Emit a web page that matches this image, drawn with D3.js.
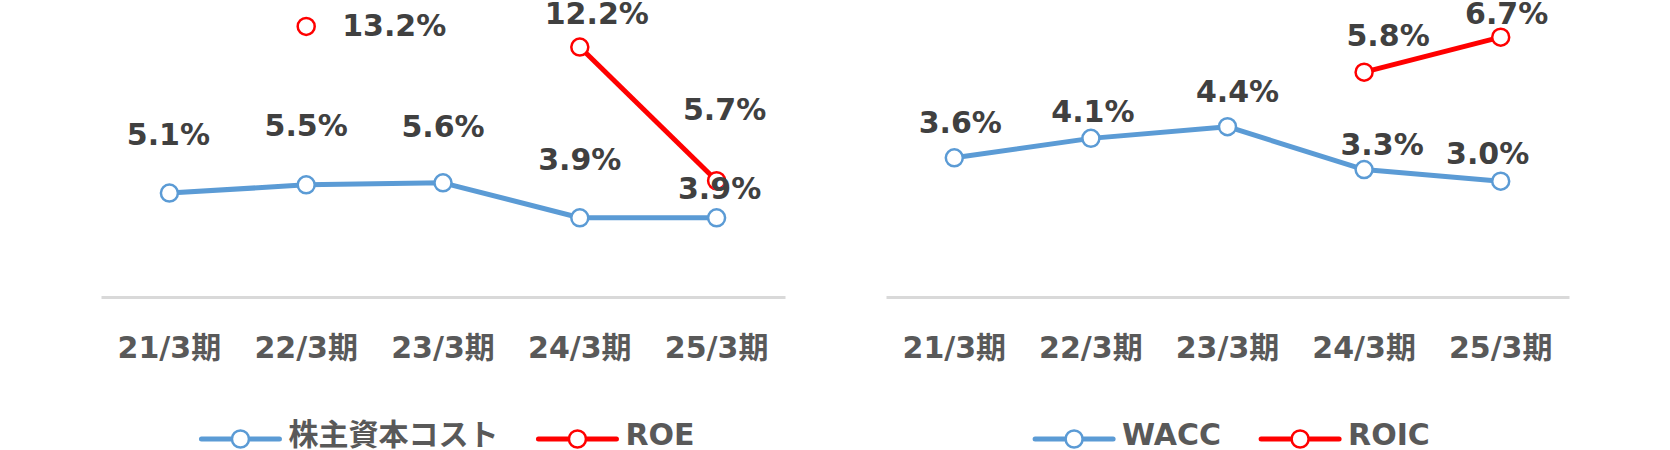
<!DOCTYPE html>
<html>
<head>
<meta charset="utf-8">
<script src="https://cdn.jsdelivr.net/npm/d3@7"></script>
<style>
  body { margin: 0; background: #fff; }
  text { font-family: "DejaVu Sans", "Noto Sans CJK JP", sans-serif; font-weight: bold; }
</style>
</head>
<body>
<svg width="1670" height="450"></svg>
<script>
// data
const categories = ['21/3期', '22/3期', '23/3期', '24/3期', '25/3期'];
const costOfEquity = [5.1, 5.5, 5.6, 3.9, 3.9];
const roe = [null, 13.2, null, 12.2, 5.7];
const wacc = [3.6, 4.1, 4.4, 3.3, 3.0];
const roic = [null, null, null, 5.8, 6.7];

const svg = d3.select('svg');
const blue = '#5B9BD5';
const red = '#FF0000';

// label nudges, as placed by hand in the original
const panels = [
  {
    left: 101, right: 785, yMax: 14, yTop: 10,
    series: [
      { name: '株主資本コスト', values: costOfEquity, color: blue,
        labels: [[-1, -48], [0, -49], [0, -46], [0, -48], [3, -19]] },
      { name: 'ROE', values: roe, color: red,
        labels: [null, [36, 10, 'start'], null, [17, -23], [8, -61]] }
    ]
  },
  {
    left: 886, right: 1569, yMax: 7.5, yTop: 6,
    series: [
      { name: 'WACC', values: wacc, color: blue,
        labels: [[6, -25], [2, -16], [10, -25], [18, -15], [-13, -17]] },
      { name: 'ROIC', values: roic, color: red,
        labels: [null, null, null, [24, -26], [6, -13]] }
    ]
  }
];

const baseY = 298;

const render = p => {
  const xScale = d3.scaleBand()
    .domain(categories)
    .range([p.left, p.right]);
  const cx = c => xScale(c) + xScale.bandwidth() / 2;

  const yScale = d3.scaleLinear()
    .domain([0, p.yMax])
    .range([baseY, p.yTop]);

  const g = svg.append('g');

  // category axis along the bottom
  const xAxis = d3.axisBottom(xScale)
    .tickSizeInner(0)
    .tickSizeOuter(0)
    .tickPadding(40);
  const axisG = g.append('g')
    .attr('transform', `translate(0, ${baseY - 1})`)
    .call(xAxis);
  axisG.select('.domain')
    .attr('stroke', '#D9D9D9')
    .attr('stroke-width', 3);
  axisG.selectAll('text')
    .attr('font-size', 30)
    .attr('font-family', '"DejaVu Sans", "Noto Sans CJK JP", sans-serif')
    .attr('font-weight', 'bold')
    .attr('fill', '#595959');

  const line = d3.line()
    .defined(d => d.v != null)
    .x(d => cx(d.c))
    .y(d => yScale(d.v));

  p.series.forEach(s => {
    const pts = categories.map((c, i) => ({ c, v: s.values[i], lab: s.labels[i] }));
    g.append('path')
      .datum(pts)
      .attr('fill', 'none')
      .attr('stroke', s.color)
      .attr('stroke-width', 5)
      .attr('stroke-linejoin', 'round')
      .attr('d', line);
    g.selectAll(null).data(pts.filter(d => d.v != null))
      .enter().append('circle')
        .attr('cx', d => cx(d.c))
        .attr('cy', d => yScale(d.v))
        .attr('r', 8.5)
        .attr('fill', '#fff')
        .attr('stroke', s.color)
        .attr('stroke-width', 2.5);
  });

  // data labels on top of everything
  p.series.forEach(s => {
    const pts = categories.map((c, i) => ({ c, v: s.values[i], lab: s.labels[i] }))
      .filter(d => d.v != null);
    g.selectAll(null).data(pts)
      .enter().append('text')
        .attr('x', d => cx(d.c) + d.lab[0])
        .attr('y', d => yScale(d.v) + d.lab[1])
        .attr('text-anchor', d => d.lab[2] || 'middle')
        .attr('font-size', 30)
        .attr('fill', '#404040')
        .text(d => d3.format('.1f')(d.v) + '%');
  });

  // legend, centred under the plot
  const legY = 439;
  const legG = g.append('g');
  const items = p.series.map(s => {
    const it = legG.append('g');
    it.append('line')
      .attr('x1', 0).attr('x2', 78)
      .attr('y1', legY).attr('y2', legY)
      .attr('stroke', s.color)
      .attr('stroke-width', 5)
      .attr('stroke-linecap', 'round');
    it.append('circle')
      .attr('cx', 39).attr('cy', legY)
      .attr('r', 8.5)
      .attr('fill', '#fff')
      .attr('stroke', s.color)
      .attr('stroke-width', 2.5);
    const t = it.append('text')
      .attr('x', 87)
      .attr('y', legY + 6)
      .attr('font-size', 30)
      .attr('fill', '#595959')
      .text(s.name);
    return { it, w: 87 + t.node().getComputedTextLength() };
  });
  const gap = 40;
  const total = d3.sum(items, d => d.w) + gap * (items.length - 1);
  let x = (p.left + p.right) / 2 + 5 - total / 2;
  items.forEach(d => {
    d.it.attr('transform', `translate(${x}, 0)`);
    x += d.w + gap;
  });
};

panels.forEach(render);
</script>
</body>
</html>
